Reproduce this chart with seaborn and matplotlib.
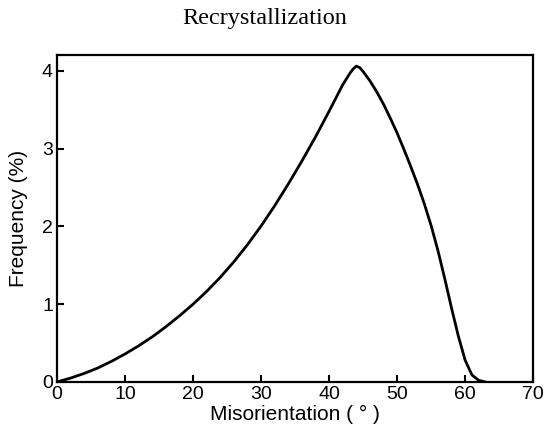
import matplotlib
matplotlib.use("Agg")
import matplotlib.pyplot as plt
import seaborn as sns
import pandas as pd

misorientation = [0, 2, 4, 6, 8, 10, 12, 14, 16, 18, 20, 22, 24, 26, 28, 30, 32, 34, 36, 38,
                  40, 41, 42, 43, 43.5, 44, 44.5, 45, 46, 47, 48, 49, 50, 51, 52, 53, 54, 55,
                  56, 57, 58, 59, 60, 61, 62, 63]
frequency = [0.0, 0.05, 0.11, 0.18, 0.265, 0.36, 0.465, 0.58, 0.71, 0.85, 1.00, 1.165, 1.345, 1.545,
             1.765, 2.005, 2.265, 2.545, 2.84, 3.15, 3.48, 3.65, 3.82, 3.96, 4.02, 4.06, 4.04, 3.99,
             3.87, 3.73, 3.57, 3.39, 3.20, 2.99, 2.77, 2.54, 2.29, 2.01, 1.69, 1.33, 0.95, 0.59,
             0.28, 0.09, 0.02, 0.0]
xticks = [0, 10, 20, 30, 40, 50, 60, 70]
yticks = [0, 1, 2, 3, 4]

sns.set_style("ticks")
plt.rcParams['font.family'] = ['Liberation Sans', 'DejaVu Sans']
plt.rcParams['text.color'] = 'black'
plt.rcParams['axes.labelcolor'] = 'black'
plt.rcParams['xtick.color'] = 'black'
plt.rcParams['ytick.color'] = 'black'

df = pd.DataFrame({"Misorientation": misorientation, "Frequency": frequency})

fig = plt.figure(figsize=(5.44, 4.38), dpi=100)
ax = fig.add_axes([0.105, 0.128, 0.875, 0.746])
sns.lineplot(data=df, x="Misorientation", y="Frequency", color="black", linewidth=2.0, ax=ax)

ax.set_xlim(0, 70)
ax.set_ylim(0, 4.2)
ax.set_xticks(xticks)
ax.set_yticks(yticks)
ax.tick_params(direction="in", length=5, width=1.5, labelsize=14, colors="black", pad=3)
for s in ax.spines.values():
    s.set_linewidth(1.6)
    s.set_color("black")
ax.set_xlabel("Misorientation ( ° )", fontsize=15, labelpad=1, color="black")
ax.set_ylabel("Frequency (%)", fontsize=15, labelpad=10, color="black")
fig.text(0.487, 0.958, "Recrystallization", ha="center", va="center", color="black",
         fontsize=17.5, family=["Liberation Serif", "DejaVu Serif"])

fig.savefig("out.png", dpi=100)
